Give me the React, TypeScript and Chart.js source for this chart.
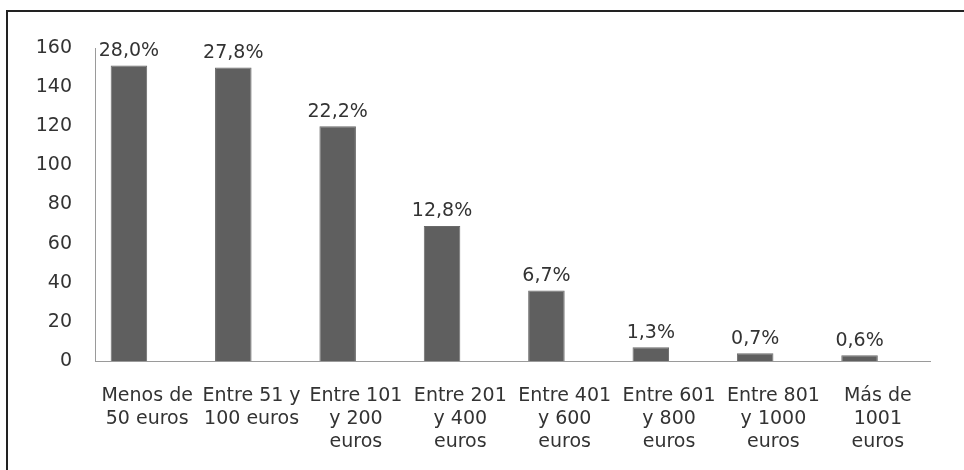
import { useEffect, useRef } from "react";
import { Chart, registerables } from "chart.js";

Chart.register(...registerables);

const categories: string[][] = [
  ["Menos de", "50 euros"],
  ["Entre 51 y", "100 euros"],
  ["Entre 101", "y 200", "euros"],
  ["Entre 201", "y 400", "euros"],
  ["Entre 401", "y 600", "euros"],
  ["Entre 601", "y 800", "euros"],
  ["Entre 801", "y 1000", "euros"],
  ["Más de", "1001", "euros"],
];
const counts = [151, 150, 120, 69, 36, 7, 4, 3];
const emptySeries = [null, null, null, null, null, null, null, null];
const percentLabels = ["28,0%", "27,8%", "22,2%", "12,8%", "6,7%", "1,3%", "0,7%", "0,6%"];
const yMin = 0;
const yMax = 160;
const yStep = 20;

const FONT = "'DejaVu Sans', sans-serif";
const TEXT = "#333333";

const valueLabelPlugin = {
  id: "valueLabels",
  afterDatasetsDraw(chart: any) {
    const ctx = chart.ctx;
    const meta = chart.getDatasetMeta(0);
    ctx.save();
    ctx.font = `19px ${FONT}`;
    ctx.fillStyle = TEXT;
    ctx.textAlign = "center";
    ctx.textBaseline = "bottom";
    meta.data.forEach((bar: any, i: number) => {
      ctx.fillText(percentLabels[i], bar.x, bar.y - 5);
    });
    ctx.restore();
  },
};

export default function App() {
  const ref = useRef<HTMLCanvasElement | null>(null);
  useEffect(() => {
    if (!ref.current) return;
    const chart = new Chart(ref.current, {
      type: "bar",
      data: {
        labels: categories,
        datasets: [
          {
            data: counts,
            backgroundColor: "#5f5f5f",
            borderColor: "#6a6a6a",
            borderWidth: 1,
            categoryPercentage: 0.7,
            barPercentage: 1,
          },
          {
            data: emptySeries as any,
            backgroundColor: "rgba(0,0,0,0)",
            categoryPercentage: 0.7,
            barPercentage: 1,
          },
        ],
      },
      options: {
        animation: false,
        responsive: false,
        maintainAspectRatio: false,
        layout: { padding: { left: 0, top: 48, right: 34, bottom: 0 } },
        plugins: {
          legend: { display: false },
          tooltip: { enabled: false },
        },
        scales: {
          y: {
            min: yMin,
            max: yMax,
            ticks: {
              stepSize: yStep,
              padding: 23,
              color: TEXT,
              font: { family: FONT, size: 19 },
            },
            grid: { display: false, drawTicks: false },
            border: { display: true, color: "#9a9a9a", width: 1 },
            afterFit: (s: any) => {
              s.width = 95;
            },
          },
          x: {
            ticks: {
              padding: 24,
              maxRotation: 0,
              minRotation: 0,
              autoSkip: false,
              color: TEXT,
              font: { family: FONT, size: 19, lineHeight: 1.2 },
            },
            grid: { display: false, drawTicks: false },
            border: { display: true, color: "#9a9a9a", width: 1 },
            afterFit: (s: any) => {
              s.height = 109;
            },
          },
        },
      },
      plugins: [valueLabelPlugin],
    });
    return () => chart.destroy();
  }, []);

  return (
    <>
      <div
        style={{
          position: "fixed",
          left: 0,
          top: 0,
          width: 964,
          height: 470,
          background: "#ffffff",
        }}
      >
        <canvas ref={ref} width={964} height={470} style={{ width: 964, height: 470, display: "block" }} />
      </div>
      <div
        style={{
          position: "fixed",
          left: 6,
          top: 10,
          width: 2000,
          height: 1000,
          borderLeft: "2px solid #222",
          borderTop: "2px solid #222",
          pointerEvents: "none",
        }}
      />
    </>
  );
}
